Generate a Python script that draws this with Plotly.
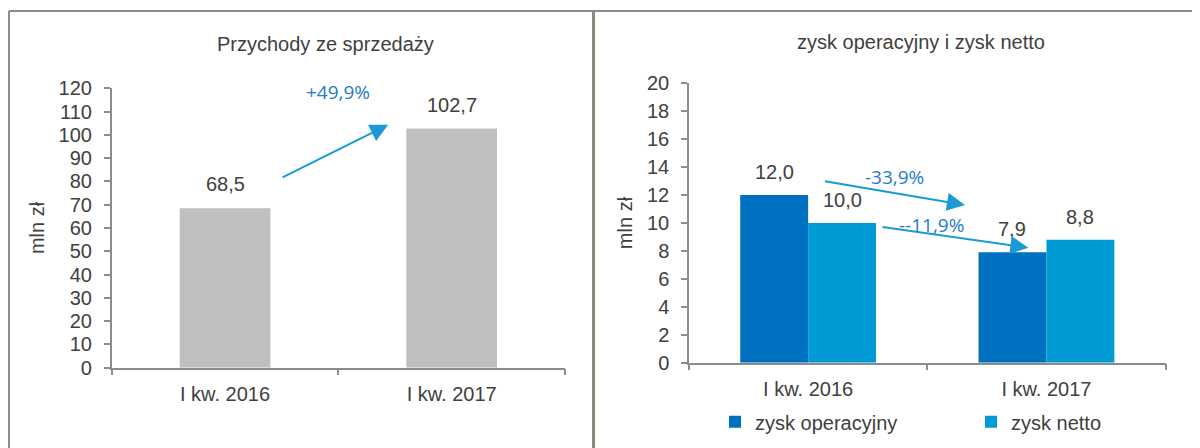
import plotly.graph_objects as go

# ---------------- data ----------------
categories = ["I kw. 2016", "I kw. 2017"]
revenue = [68.5, 102.7]
op_profit = [12.0, 7.9]
net_profit = [10.0, 8.8]
left_ticks = list(range(0, 121, 10))
right_ticks = list(range(0, 21, 2))
left_title = "Przychody ze sprzedaży"
right_title = "zysk operacyjny i zysk netto"
y_title = "mln zł"
series_names = ["zysk operacyjny", "zysk netto"]
revenue_change = "+49,9%"
op_change = "-33,9%"
net_change = "--11,9%"


def fmt(v):
    return f"{v:.1f}".replace(".", ",")


TXT = "#404040"
AX = "#8c8c8c"
GRAY_BAR = "#bfbfbf"
DARK_BLUE = "#0070c0"
LIGHT_BLUE = "#009bd5"
ARROW = "#1a9ad6"
PCT = "#1f7bc7"
FONT = "Liberation Sans, Arial, sans-serif"

# the page body has an 8px margin, so the figure is drawn 8px in from the top-left
OFF = 8
W, H = 1200 - OFF, 448 - OFF


def px_x(p):
    return (p - OFF) / W


def px_y(p):
    return (H - (p - OFF)) / H


fig = go.Figure()

fig.add_trace(go.Bar(x=categories, y=revenue, marker=dict(color=GRAY_BAR, line=dict(width=0)),
                     width=0.4, xaxis="x", yaxis="y", showlegend=False))
fig.add_trace(go.Bar(x=categories, y=op_profit, name=series_names[0],
                     marker=dict(color=DARK_BLUE, line=dict(width=0)), xaxis="x2", yaxis="y2"))
fig.add_trace(go.Bar(x=categories, y=net_profit, name=series_names[1],
                     marker=dict(color=LIGHT_BLUE, line=dict(width=0)), xaxis="x2", yaxis="y2"))

axis_common = dict(showline=True, linecolor=AX, linewidth=1.5, ticks="outside", ticklen=6,
                   tickcolor=AX, tickwidth=1.5, showgrid=False, zeroline=False, automargin=False,
                   tickfont=dict(family=FONT, size=20, color=TXT))

fig.update_layout(
    template="none",
    width=W, height=H, margin=dict(l=0, r=0, t=0, b=0, autoexpand=False),
    paper_bgcolor="white", plot_bgcolor="white",
    barmode="group", bargap=0.43, bargroupgap=0,
    font=dict(family=FONT, color=TXT, size=20),
    xaxis=dict(domain=[px_x(111.7), px_x(565)], anchor="y", type="category",
               tickson="boundaries", ticklabelstandoff=8, **axis_common),
    yaxis=dict(domain=[px_y(367.7), px_y(88.3)], anchor="x", range=[0, 120],
               tickvals=left_ticks, ticklabelstandoff=8,
               title=dict(text=y_title, standoff=9, font=dict(family=FONT, size=20, color=TXT)),
               **axis_common),
    xaxis2=dict(domain=[px_x(689), px_x(1165.6)], anchor="y2", type="category",
                tickson="boundaries", ticklabelstandoff=8, **axis_common),
    yaxis2=dict(domain=[px_y(362.7), px_y(83.3)], anchor="x2", range=[0, 20],
                tickvals=right_ticks, ticklabelstandoff=8,
                title=dict(text=y_title, standoff=9, font=dict(family=FONT, size=20, color=TXT)),
                **axis_common),
    legend=dict(orientation="h", x=px_x(715), y=px_y(421.7), xanchor="left", yanchor="middle",
                entrywidth=211, entrywidthmode="pixels", itemwidth=30,
                font=dict(family=FONT, size=20, color=TXT), bgcolor="rgba(0,0,0,0)"),
)

ann = []
# titles
ann.append(dict(text=left_title, xref="paper", yref="paper", x=px_x(326), y=px_y(44),
                showarrow=False, font=dict(family=FONT, size=20, color=TXT), xanchor="center", yanchor="middle"))
ann.append(dict(text=right_title, xref="paper", yref="paper", x=px_x(921), y=px_y(42),
                showarrow=False, font=dict(family=FONT, size=20, color=TXT), xanchor="center", yanchor="middle"))

# value labels
for i, v in enumerate(revenue):
    ann.append(dict(text=fmt(v), x=i, y=v, xref="x", yref="y", showarrow=False, yshift=24,
                    font=dict(family=FONT, size=20, color=TXT)))
half = (1 - 0.43) / 4
for i, v in enumerate(op_profit):
    ann.append(dict(text=fmt(v), x=i - half, y=v, xref="x2", yref="y2", showarrow=False, yshift=23,
                    font=dict(family=FONT, size=20, color=TXT)))
for i, v in enumerate(net_profit):
    ann.append(dict(text=fmt(v), x=i + half, y=v, xref="x2", yref="y2", showarrow=False, yshift=23,
                    font=dict(family=FONT, size=20, color=TXT)))

# change arrows (positions in axis units)
arrow_style = dict(showarrow=True, arrowhead=2, arrowsize=1.8, arrowwidth=2, arrowcolor=ARROW,
                   standoff=0, startstandoff=0, text="")
ann.append(dict(x=0.72, y=104.3, ax=0.247, ay=81.4, xref="x", yref="y", axref="x", ayref="y", **arrow_style))
ann.append(dict(x=0.658, y=11.29, ax=0.064, ay=13.01, xref="x2", yref="y2", axref="x2", ayref="y2", **arrow_style))
ann.append(dict(x=0.924, y=8.23, ax=0.306, ay=9.735, xref="x2", yref="y2", axref="x2", ayref="y2", **arrow_style))

pct_font = dict(family="Open Sans, sans-serif", size=19, color=PCT)
ann.append(dict(text=revenue_change, x=0.498, y=118.6, xref="x", yref="y", showarrow=False, font=pct_font))
ann.append(dict(text=op_change, x=0.3615, y=13.31, xref="x2", yref="y2", showarrow=False, font=pct_font))
ann.append(dict(text=net_change, x=0.518, y=9.86, xref="x2", yref="y2", showarrow=False, font=pct_font))

fig.update_layout(annotations=ann)

# panel frames
shapes = [
    dict(type="line", xref="paper", yref="paper", x0=px_x(9), x1=px_x(9), y0=px_y(11), y1=0,
         line=dict(color=AX, width=2)),
    dict(type="line", xref="paper", yref="paper", x0=px_x(9), x1=1, y0=px_y(11), y1=px_y(11),
         line=dict(color=AX, width=2)),
    dict(type="line", xref="paper", yref="paper", x0=px_x(593.5), x1=px_x(593.5), y0=px_y(11), y1=0,
         line=dict(color="#8a8a7e", width=3)),
]
fig.update_layout(shapes=shapes)

fig.write_html("out.html")
